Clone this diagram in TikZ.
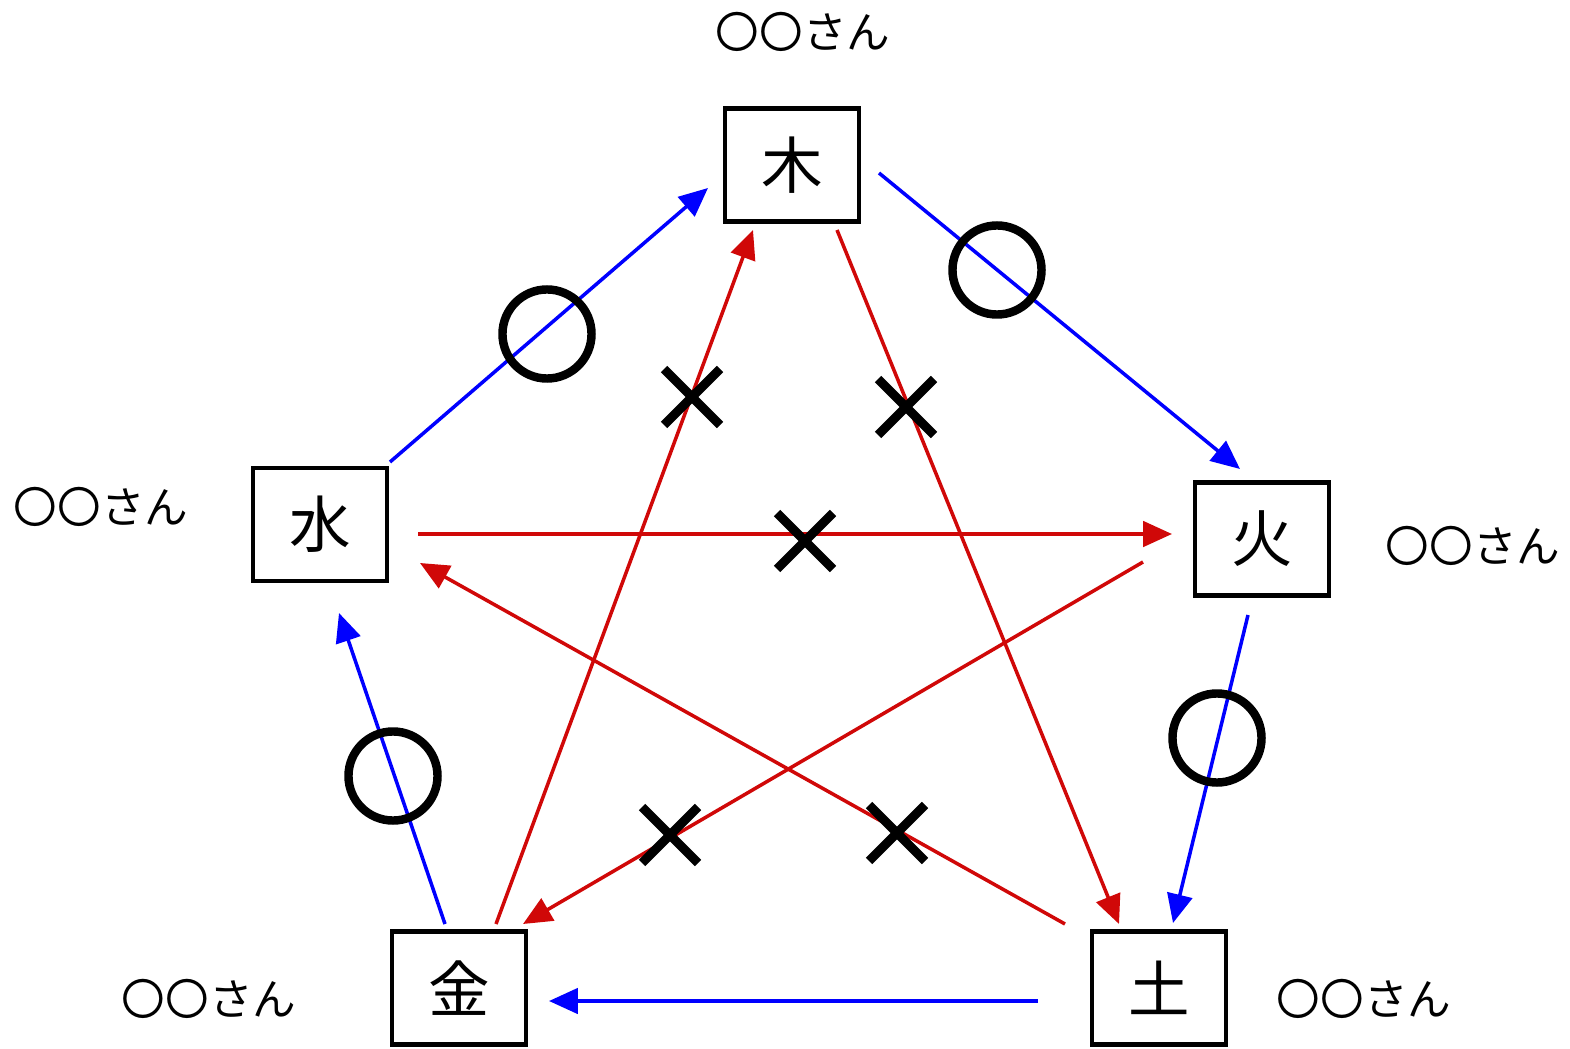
\documentclass[tikz,border=0pt]{standalone}
\usepackage{fontspec}
\newfontfamily\cjk{Noto Sans CJK JP}
\usetikzlibrary{arrows.meta,calc}
\definecolor{arblue}{RGB}{0,0,255}
\definecolor{arred}{RGB}{208,8,8}
\tikzset{
  elem/.style={draw=black, line width=1.2pt, minimum width=1.34cm, minimum height=1.13cm, inner sep=0pt, font=\cjk\fontsize{17.5}{18}\selectfont},
  who/.style={inner sep=0pt, font=\cjk\fontsize{12.4}{13}\selectfont},
  good/.style={draw=arblue, line width=1.0pt, -{Triangle[length=8.2pt,width=7.2pt]}},
  bad/.style={draw=arred, line width=1.0pt, -{Triangle[length=8.2pt,width=7.2pt]}},
  okmark/.style={draw=black, line width=2.4pt, circle, minimum size=0.89cm, inner sep=0pt},
  ngmark/.style={draw=black, line width=2.6pt},
}
\begin{document}
\begin{tikzpicture}[x=0.01cm, y=-0.01cm]
\useasboundingbox (0,0) rectangle (1570,1049);
% element boxes
\node[elem] (ki)  at (792,165)   {木};
\node[elem] (mizu) at (320,524.5) {水};
\node[elem] (hi)  at (1262,539)  {火};
\node[elem] (kin) at (459,988)   {金};
\node[elem] (tsuchi) at (1159,988) {土};
% name labels
\node[who] (lki) at (803,32) {〇〇さん};
\node[who] (lmizu) at (101,507) {〇〇さん};
\node[who] (lhi) at (1473,546) {〇〇さん};
\node[who] (lkin) at (209,999) {〇〇さん};
\node[who] (ltsuchi) at (1364,999) {〇〇さん};
% connector end points
\coordinate (b1s) at (390,462);  \coordinate (b1e) at (708,188);
\coordinate (b2s) at (879,173);  \coordinate (b2e) at (1240,469);
\coordinate (b3s) at (1248,615); \coordinate (b3e) at (1173,923);
\coordinate (b4s) at (1038,1001); \coordinate (b4e) at (549,1001);
\coordinate (b5s) at (445,924);  \coordinate (b5e) at (339,613);
\coordinate (r1s) at (418,534);  \coordinate (r1e) at (1172,534);
\coordinate (r2s) at (837,230);  \coordinate (r2e) at (1119,924);
\coordinate (r3s) at (1143,562); \coordinate (r3e) at (523,924);
\coordinate (r4s) at (1065,924); \coordinate (r4e) at (420,563);
\coordinate (r5s) at (496,924);  \coordinate (r5e) at (753,230);
% red arrows
\draw[bad] (r1s) -- (r1e);
\draw[bad] (r2s) -- (r2e);
\draw[bad] (r3s) -- (r3e);
\draw[bad] (r4s) -- (r4e);
\draw[bad] (r5s) -- (r5e);
% blue arrows
\draw[good] (b1s) -- (b1e);
\draw[good] (b2s) -- (b2e);
\draw[good] (b3s) -- (b3e);
\draw[good] (b4s) -- (b4e);
\draw[good] (b5s) -- (b5e);
% circles
\node[okmark] (o1) at (547,334) {};
\node[okmark] (o2) at (997,270) {};
\node[okmark] (o3) at (1217,738) {};
\node[okmark] (o4) at (393,776) {};
% crosses
\foreach \n/\cx/\cy in {x1/692/397, x2/906/407, x3/805/541, x4/670/835, x5/897/833}{
  \coordinate (\n) at (\cx,\cy);
  \draw[ngmark] ($(\n)+(-28,-28)$) -- ($(\n)+(28,28)$);
  \draw[ngmark] ($(\n)+(-28,28)$) -- ($(\n)+(28,-28)$);
}
\end{tikzpicture}
\end{document}
